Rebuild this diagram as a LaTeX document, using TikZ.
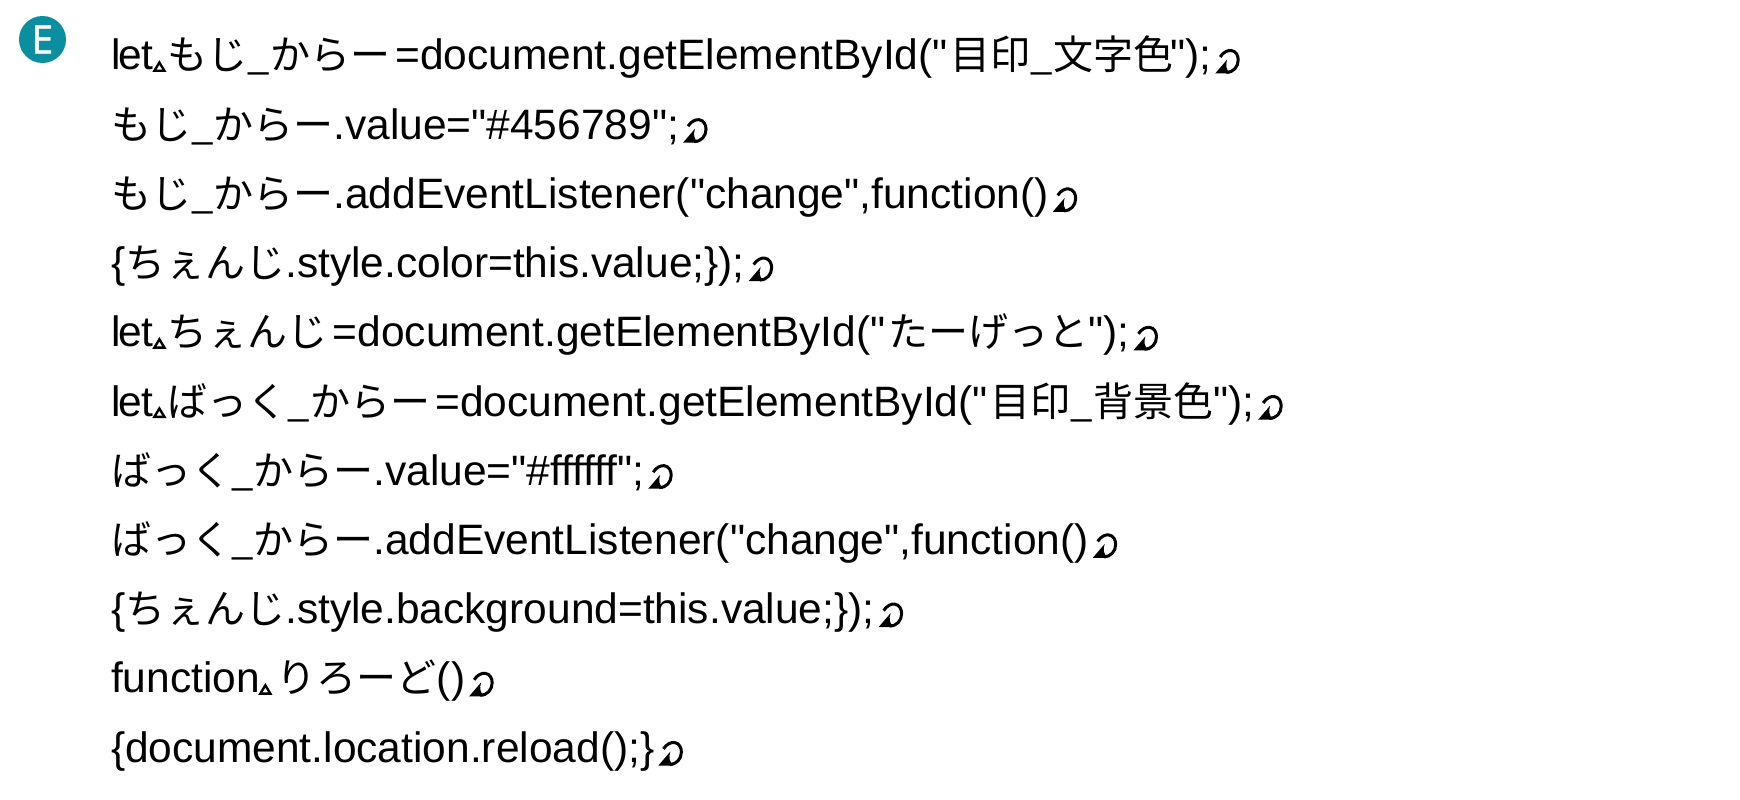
\documentclass[tikz,border=0pt]{standalone}
\usepackage{fontspec}
\setmainfont[Ligatures=TeXOff]{Liberation Sans}
\newfontfamily\jp{Noto Sans CJK JP}
\newfontfamily\badgefont[FakeBold=1.2]{Open Sans}
\newcommand{\J}[1]{{\jp\fontsize{40}{40}\selectfont #1}}
\newcommand{\Let}{l\kern-1.5pt e\kern-1.5pt t}
\definecolor{badgeteal}{HTML}{0A8EA0}
\tikzset{
 x=1pt,y=-1pt,
 codeline/.style={anchor=base west,inner sep=0pt,outer sep=0pt,font=\fontsize{42.5}{44}\selectfont,text=black},
 spcmark/.pic={\draw[line width=2.4pt,fill=white,line join=miter] (-1,0.8) -- (9,0.8) -- (4,-7.5) -- cycle;},
 retmark/.pic={\fill (4,3.5) -- (16,-10.5) .. controls (14,-5) and (15,0) .. (19,3.5) -- cycle;
   \draw[line width=3pt] (9,-13) .. controls (12,-18) and (17,-20) .. (20,-19.5) .. controls (25,-19) and (27,-14) .. (27,-10) .. controls (27,-3) and (22,2.5) .. (15,2.5);},
}
\begin{document}
\begin{tikzpicture}
\useasboundingbox (0,0) rectangle (1740,800);
\node[circle,fill=badgeteal,minimum size=47pt,inner sep=0pt,text=white,font=\badgefont\fontsize{39}{39}\selectfont] (badge) at (42.5,39.5) {E};
\node[codeline] (a1) at (111,70) {\Let};
\pic at ([xshift=2.5pt]a1.base east) {spcmark};
\node[codeline] (a2) at ([xshift=15pt]a1.base east) {\J{もじ\_からー}\kern5pt=document.getElementById("\kern3pt\J{目印\_文字色}\kern-3pt");};
\pic at (a2.base east) {retmark};
\node[codeline] (b1) at (111,139.2) {\J{もじ\_からー}.value="\#456789";};
\pic at (b1.base east) {retmark};
\node[codeline] (c1) at (111,208.4) {\J{もじ\_からー}.addEventListener("change",function()};
\pic at (c1.base east) {retmark};
\node[codeline] (d1) at (111,277.6) {\{\J{ちぇんじ}.style.color=this.value;\});};
\pic at (d1.base east) {retmark};
\node[codeline] (e1) at (111,346.8) {\Let};
\pic at ([xshift=2.5pt]e1.base east) {spcmark};
\node[codeline] (e2) at ([xshift=15pt]e1.base east) {\J{ちぇんじ}\kern5pt=document.getElementById("\kern3pt\J{たーげっと}");};
\pic at (e2.base east) {retmark};
\node[codeline] (f1) at (111,416) {\Let};
\pic at ([xshift=2.5pt]f1.base east) {spcmark};
\node[codeline] (f2) at ([xshift=15pt]f1.base east) {\J{ばっく\_からー}\kern5pt=document.getElementById("\kern3pt\J{目印\_背景色}");};
\pic at (f2.base east) {retmark};
\node[codeline] (g1) at (111,485.2) {\J{ばっく\_からー}.value="\#ffffff";};
\pic at (g1.base east) {retmark};
\node[codeline] (h1) at (111,554.4) {\J{ばっく\_からー}.addEventListener("change",function()};
\pic at (h1.base east) {retmark};
\node[codeline] (i1) at (111,623.6) {\{\J{ちぇんじ}.style.background=this.value;\});};
\pic at (i1.base east) {retmark};
\node[codeline] (j1) at (111,692.8) {function};
\pic at ([xshift=1.5pt]j1.base east) {spcmark};
\node[codeline] (j2) at ([xshift=17pt]j1.base east) {\J{りろーど}()};
\pic at (j2.base east) {retmark};
\node[codeline] (k1) at (111,762) {\{document.location.reload();\}};
\pic at (k1.base east) {retmark};
\end{tikzpicture}
\end{document}
